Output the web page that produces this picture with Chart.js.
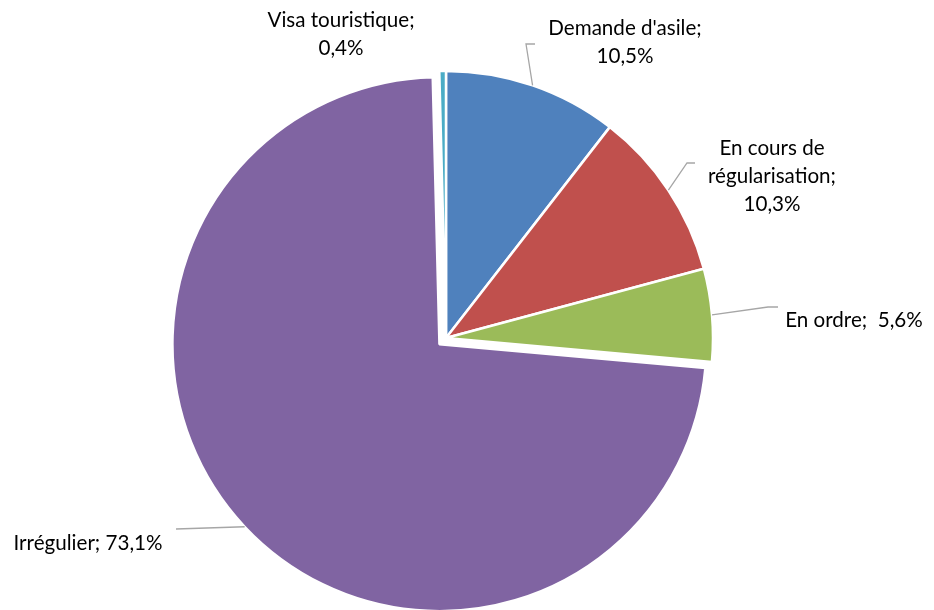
<!DOCTYPE html>
<html>
<head>
<meta charset="utf-8">
<script src="https://cdn.jsdelivr.net/npm/chart.js@4"></script>
<style>
  html, body { margin: 0; padding: 0; background: #ffffff; }
  #wrap { width: 934px; height: 610px; }
</style>
</head>
<body>
<div id="wrap"><canvas id="pie" width="934" height="610"></canvas></div>
<script>
// Répartition par statut de séjour (%)
const categories = ["Demande d'asile", "En cours de régularisation", "En ordre", "Irrégulier", "Visa touristique"];
const shares = [10.5, 10.3, 5.6, 73.1, 0.4];
const sliceColors = ['#4F81BD', '#C0504D', '#9BBB59', '#8064A2', '#4BACC6'];

// Label text split over lines, as set in the chart
const labelLines = [
  ["Demande d'asile;"],
  ['En cours de', 'régularisation;'],
  ['En ordre;'],
  ['Irrégulier;'],
  ['Visa touristique;']
];

// Placement of each data label: text centre, first baseline, whether the value
// sits on the same line, and the leader line elbow / end (null = no leader)
const labelLayout = [
  { x: 625, y: 35, inline: false, gap: ' ', elbow: [526, 44], end: [535, 44] },
  { x: 772, y: 155, inline: false, gap: ' ', elbow: [687, 163], end: [695, 163] },
  { x: 854, y: 327, inline: true, gap: '  ', elbow: [768, 307], end: [778, 307] },
  { x: 88, y: 550, inline: true, gap: ' ', elbow: [176, 529], end: [176, 529] },
  { x: 341, y: 27, inline: false, gap: ' ', elbow: null, end: null }
];

const explodeIndex = 3;   // slice pulled away from the centre
const explodeDist = 9;
const lineHeight = 28;
const labelFont = '20.6px Lato, "Open Sans", sans-serif';

function fmtPct(v) {
  return v.toFixed(1).replace('.', ',') + '%';
}

function sliceShift(el, i) {
  if (i !== explodeIndex) return [0, 0];
  const mid = (el.startAngle + el.endAngle) / 2;
  return [Math.cos(mid) * explodeDist, Math.sin(mid) * explodeDist];
}

const explodedPie = {
  id: 'explodedPie',
  beforeDatasetDraw(chart, args) {
    const meta = chart.getDatasetMeta(args.index);
    const ctx = chart.ctx;
    meta.data.forEach((el, i) => {
      const [dx, dy] = sliceShift(el, i);
      ctx.save();
      ctx.translate(dx, dy);
      el.draw(ctx, chart.chartArea);
      ctx.restore();
    });
    return false;
  }
};

const outsideLabels = {
  id: 'outsideLabels',
  afterDatasetsDraw(chart) {
    const ctx = chart.ctx;
    const meta = chart.getDatasetMeta(0);
    ctx.save();
    meta.data.forEach((el, i) => {
      const lay = labelLayout[i];
      const [dx, dy] = sliceShift(el, i);
      const mid = (el.startAngle + el.endAngle) / 2;
      const r = el.outerRadius;
      const sx = el.x + dx + Math.cos(mid) * r;
      const sy = el.y + dy + Math.sin(mid) * r;

      if (lay.elbow) {
        ctx.strokeStyle = '#A6A6A6';
        ctx.lineWidth = 1.3;
        ctx.beginPath();
        ctx.moveTo(sx, sy);
        ctx.lineTo(lay.elbow[0], lay.elbow[1]);
        ctx.lineTo(lay.end[0], lay.end[1]);
        ctx.stroke();
      }

      const lines = labelLines[i].slice();
      const pct = fmtPct(shares[i]);
      if (lay.inline) {
        lines[lines.length - 1] += lay.gap + pct;
      } else {
        lines.push(pct);
      }
      ctx.fillStyle = '#000000';
      ctx.font = labelFont;
      ctx.textAlign = 'center';
      ctx.textBaseline = 'alphabetic';
      lines.forEach((t, k) => ctx.fillText(t, lay.x, lay.y + k * lineHeight));
    });
    ctx.restore();
  }
};

new Chart(document.getElementById('pie'), {
  type: 'pie',
  data: {
    labels: categories,
    datasets: [{
      data: shares,
      backgroundColor: sliceColors,
      borderColor: '#FFFFFF',
      borderWidth: 2.5,
      radius: 267
    }]
  },
  options: {
    responsive: false,
    animation: false,
    layout: { padding: { left: 0, right: 42, top: 66, bottom: 0 } },
    plugins: {
      legend: { display: false },
      tooltip: { enabled: false }
    },
    events: []
  },
  plugins: [explodedPie, outsideLabels]
});
</script>
</body>
</html>
